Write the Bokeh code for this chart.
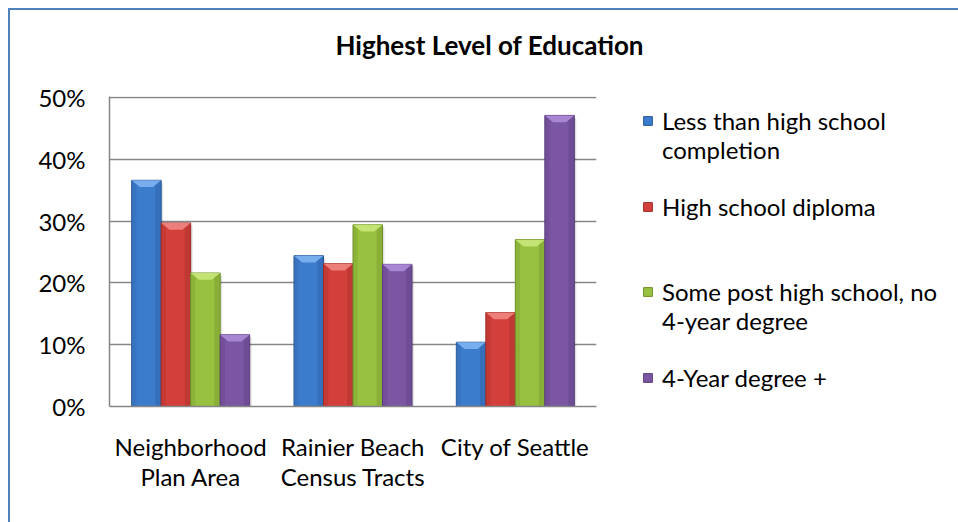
from bokeh.plotting import figure
from bokeh.models import (Range1d, FixedTicker, NumeralTickFormatter, Legend,
                          LegendItem, ColumnDataSource)
from bokeh.embed import file_html
from bokeh.resources import INLINE

# --- data -------------------------------------------------------------
areas = ["Neighborhood\nPlan Area", "Rainier Beach\nCensus Tracts", "City of Seattle"]
levels = ["Less than high school", "High school diploma",
          "Some post high school, no", "4-Year degree +"]
level_second_lines = ["completion", None, "4-year degree", None]
less_than_hs = [0.366, 0.244, 0.104]
hs_diploma = [0.297, 0.231, 0.152]
some_post_hs = [0.216, 0.294, 0.270]
four_year_plus = [0.116, 0.230, 0.471]
series = [less_than_hs, hs_diploma, some_post_hs, four_year_plus]
y_ticks = [0.0, 0.1, 0.2, 0.3, 0.4, 0.5]
title = "Highest Level of Education"

# --- styling ----------------------------------------------------------
FONT = "Lato"
FS = "24px"
fills = ["#3c7ccc", "#d33f3a", "#97c13f", "#7b56a3"]
edges = ["#2a5a9a", "#9e2b27", "#6f8f2a", "#5a3d7c"]
lights = ["#7fb4f2", "#f08682", "#c8e87a", "#ae8cd9"]
GRID = "#868686"

group_w = 0.727
bar_w = group_w / 4
bevel = 0.011
shadow_dx = 0.012

FRAME_L, FRAME_T, FRAME_W, FRAME_H = 99, 86, 487, 310

p = figure(frame_width=FRAME_W, frame_height=FRAME_H,
           min_border_left=FRAME_L, min_border_top=FRAME_T,
           min_border_bottom=512 - FRAME_T - FRAME_H,
           min_border_right=10,
           x_range=Range1d(0, 3), y_range=Range1d(0, 0.5016),
           output_backend="svg", toolbar_location=None,
           background_fill_color="white", border_fill_color="white",
           outline_line_color=None,
           margin=(8, 0, 0, 8),
           styles={"border-top": "2px solid #4f81bd",
                   "border-left": "2px solid #4f81bd"})

# the trailing empty line lifts the title well clear of the plot area
p.title.text = title + "\n"
p.title.text_font = FONT
p.title.text_font_size = "26px"
p.title.text_font_style = "bold"
p.title.text_color = "black"
p.title.align = "left"
p.title.offset = 226
p.title.standoff = 8

bar_x = [[c + 0.5 + (i - 1.5) * bar_w for c in range(len(vals))]
         for i, vals in enumerate(series)]

# soft drop shadow behind every bar
for xs, vals in zip(bar_x, series):
    p.vbar(x=[x + shadow_dx for x in xs], top=[v - 0.004 for v in vals],
           bottom=0, width=bar_w, fill_color="#000000", fill_alpha=0.12,
           line_color=None)

renderers = []
for i, (xs, vals) in enumerate(zip(bar_x, series)):
    src = ColumnDataSource(dict(x=xs, top=vals))
    r = p.vbar(x="x", top="top", bottom=0, width=bar_w, source=src,
               fill_color=fills[i], line_color=edges[i], line_width=1)
    renderers.append(r)
    # darker side shading of each bar
    p.vbar(x=[x + bar_w * 0.40 for x in xs], top=vals, bottom=0,
           width=bar_w * 0.2, fill_color=edges[i], fill_alpha=0.35,
           line_color=None)
    p.vbar(x=[x - bar_w * 0.42 for x in xs], top=vals, bottom=0,
           width=bar_w * 0.16, fill_color=edges[i], fill_alpha=0.25,
           line_color=None)
    # light bevel at the top of each bar
    px = [[x - bar_w / 2, x + bar_w / 2, x + bar_w * 0.22, x - bar_w * 0.22]
          for x in xs]
    py = [[t, t, t - bevel, t - bevel] for t in vals]
    p.patches(px, py, fill_color=lights[i], line_color=None, fill_alpha=0.9)

# invisible glyph for legend rows that only carry text
blank = p.vbar(x=[], top=[], width=bar_w, fill_alpha=0, line_alpha=0)

# axes
p.xaxis.ticker = FixedTicker(ticks=[0.5, 1.5, 2.5])
p.xaxis.major_label_overrides = {0.5: areas[0], 1.5: areas[1], 2.5: areas[2]}
p.yaxis.ticker = FixedTicker(ticks=y_ticks)
p.yaxis.formatter = NumeralTickFormatter(format="0%")
for ax in (p.xaxis, p.yaxis):
    ax.axis_line_color = GRID
    ax.axis_line_width = 1.5
    ax.major_tick_line_color = None
    ax.minor_tick_line_color = None
    ax.major_label_text_font = FONT
    ax.major_label_text_font_size = FS
    ax.major_label_text_color = "black"
p.xaxis.major_label_text_line_height = 1.05
p.xaxis.major_label_standoff = 19
p.yaxis.major_label_standoff = 18
p.xgrid.grid_line_color = None
p.ygrid.grid_line_color = GRID
p.ygrid.grid_line_width = 1.5

# legend rows: each entry, its wrapped second line, and blank rows that
# keep the entries evenly distributed down the side
rows = [
    (levels[0], renderers[0]), (level_second_lines[0], blank), (" ", blank),
    (levels[1], renderers[1]), (" ", blank), (" ", blank),
    (levels[2], renderers[2]), (level_second_lines[2], blank), (" ", blank),
    (levels[3], renderers[3]),
]
legend = Legend(items=[LegendItem(label=t, renderers=[r]) for t, r in rows],
                location=(46, 14), orientation="vertical",
                label_text_font=FONT, label_text_font_size=FS,
                label_text_color="black", label_height=28,
                glyph_width=11, glyph_height=11, label_standoff=9,
                spacing=0, padding=0, margin=0,
                border_line_color=None, background_fill_alpha=0)
p.add_layout(legend, "right")

open("out.html", "w").write(file_html(p, INLINE))
